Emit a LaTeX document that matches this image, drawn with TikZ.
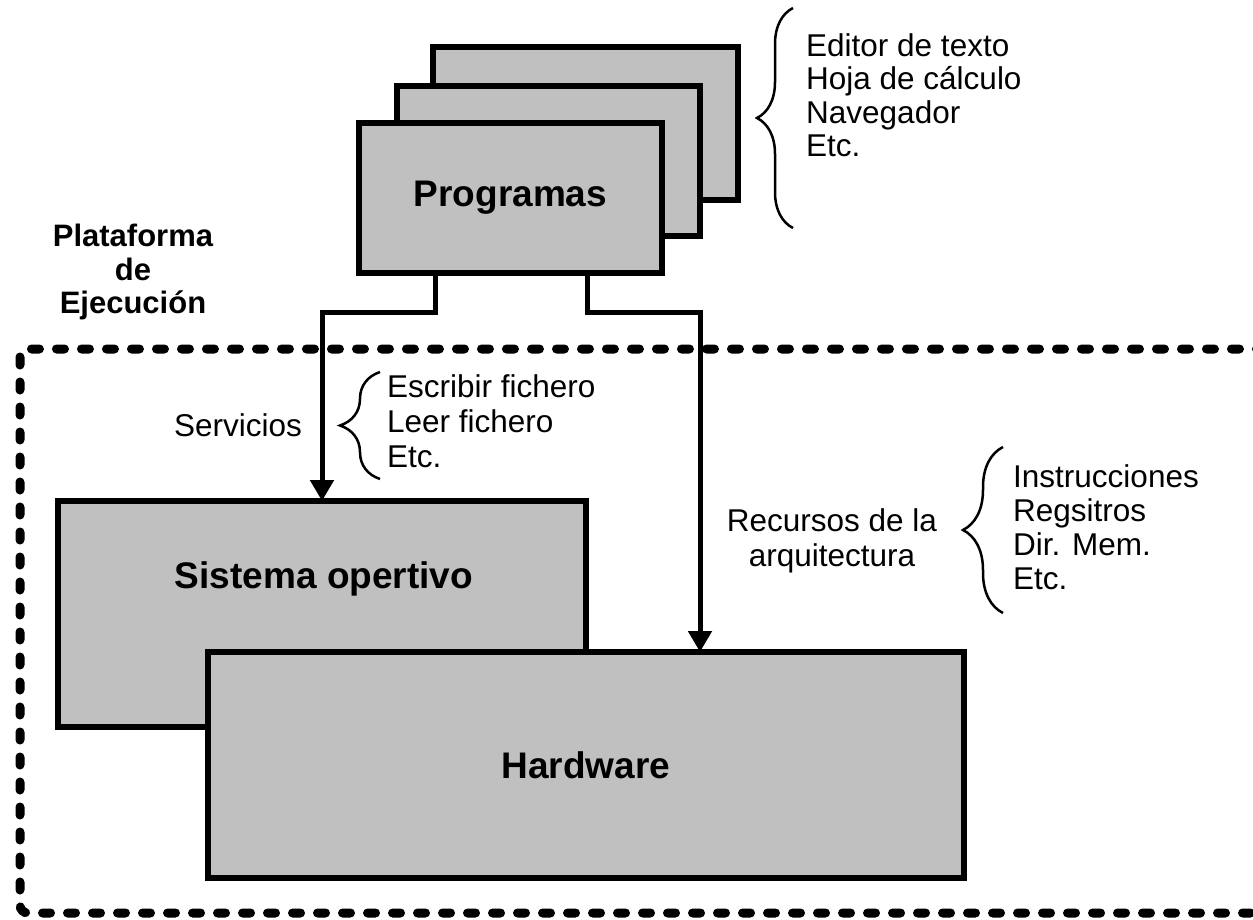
\documentclass[tikz,border=0pt]{standalone}
\usepackage{fontspec}
\setmainfont{Liberation Sans}
\usetikzlibrary{arrows.meta,decorations.pathreplacing}
\definecolor{boxgray}{RGB}{192,192,192}

\begin{document}
\begin{tikzpicture}[x=1pt,y=-1pt,
    box/.style={draw, fill=boxgray, line width=5.5pt, inner sep=0pt, outer sep=0pt,
        font=\fontsize{37}{40}\selectfont\bfseries},
    txt/.style={font=\fontsize{31.5}{35}\selectfont, inner sep=0pt},
    bold/.style={font=\fontsize{31}{33.5}\selectfont\bfseries, inner sep=0pt},
    arr/.style={line width=5pt, -{Triangle[length=21pt,width=23pt]}},
    frame/.style={line width=9pt, line cap=round, dash pattern=on 8pt off 17pt, rounded corners=8pt},
    brc/.style={line width=2.5pt, decorate, decoration={brace, amplitude=#1}}]

    \useasboundingbox (0,0) rectangle (1253,920);

	%plataforma
    \draw[frame] (20,349) rectangle (1300,913);
    \node[bold, align=center] (plat) at (133,272) {Plataforma\\de\\Ejecución};

	%programas
    \node[box, minimum width=305pt, minimum height=153pt] (progc) at (585.5,123.5) {};
    \node[box, minimum width=303pt, minimum height=150pt] (progb) at (548.5,161) {};
    \node[box, minimum width=303pt, minimum height=150pt] (prog) at (510.5,198) {Programas};

    \draw[brc=36pt] (793,228) -- (793,8);
    \node[txt, font=\fontsize{31.5}{33.5}\selectfont, align=left, anchor=west] (apps) at (806,95) {Editor de texto\\Hoja de cálculo\\Navegador\\Etc.};

	%sistema operativo y hardware
    \node[box, minimum width=528pt, minimum height=226pt] (so) at (322,614) {};
    \node[txt, font=\fontsize{37}{40}\selectfont\bfseries] (solbl) at (324,579) {Sistema opertivo};
    \node[box, minimum width=756pt, minimum height=226pt] (hw) at (586,765) {Hardware};

	%conexiones
    \coordinate (hwin) at ([xshift=114pt]hw.north);
    \draw[arr] ([xshift=-75.5pt]prog.south) -- ++(0,39) -| (so.north);
    \draw[arr] ([xshift=76.5pt]prog.south) -- ++(0,39) -| (hwin);

    \node[txt] (serv) at (238,425) {Servicios};
    \draw[brc=40pt] (380,479) -- (380,372);
    \node[txt, align=left, anchor=west] (srvlist) at (387,421) {Escribir fichero\\Leer fichero\\Etc.};

    \node[txt, align=center] (rec) at (832,541) {Recursos de la\\arquitectura};
    \draw[brc=40pt] (1003,613) -- (1003,447);
    \node[txt, font=\fontsize{31.5}{34}\selectfont, align=left, anchor=west] (reclist) at (1013,527) {Instrucciones\\Regsitros\\Dir. Mem.\\Etc.};

\end{tikzpicture}
\end{document}
